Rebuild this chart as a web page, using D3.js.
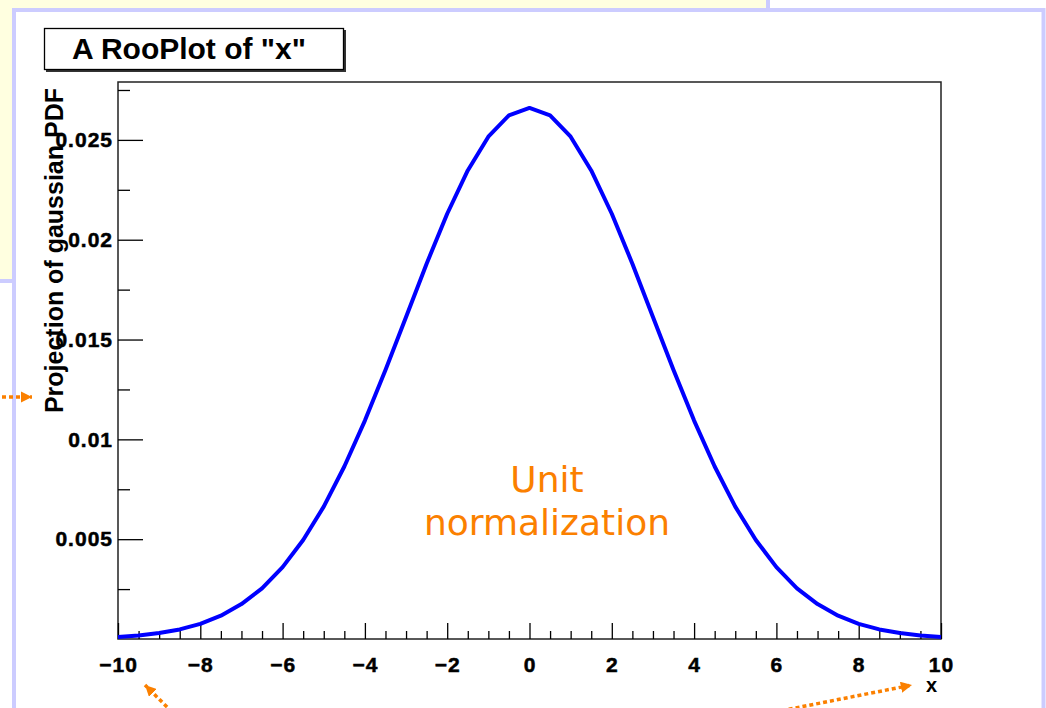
<!DOCTYPE html>
<html>
<head>
<meta charset="utf-8">
<script src="https://cdn.jsdelivr.net/npm/d3@7"></script>
<style>
  html, body { margin: 0; padding: 0; background: #fff; }
  svg { display: block; }
  .axis text { font-family: "Liberation Sans", Arial, sans-serif; font-weight: bold; font-size: 21px; letter-spacing: 1px; fill: #000; stroke: #000; stroke-width: 0.5px; }
  .axis line { stroke: #000; stroke-width: 1.3; }
  .axis path { display: none; }
</style>
</head>
<body>
<div id="chart"></div>
<script>
// x grid of the projected pdf
const xValues = [-10, -9.5, -9, -8.5, -8, -7.5, -7, -6.5, -6, -5.5, -5, -4.5, -4, -3.5, -3, -2.5, -2, -1.5, -1, -0.5,
  0, 0.5, 1, 1.5, 2, 2.5, 3, 3.5, 4, 4.5, 5, 5.5, 6, 6.5, 7, 7.5, 8, 8.5, 9, 9.5, 10];
const pdfValues = [0.0001, 0.00018, 0.0003, 0.00048, 0.00076, 0.00117, 0.00175, 0.00254, 0.0036, 0.00496, 0.00663,
  0.00864, 0.01094, 0.01347, 0.01613, 0.0188, 0.0213, 0.02347, 0.02516, 0.02623,
  0.0266, 0.02623, 0.02516, 0.02347, 0.0213, 0.0188, 0.01613, 0.01347, 0.01094, 0.00864,
  0.00663, 0.00496, 0.0036, 0.00254, 0.00175, 0.00117, 0.00076, 0.00048, 0.0003, 0.00018, 0.0001];

const xTicks = [-10, -8, -6, -4, -2, 0, 2, 4, 6, 8, 10];
const yTicks = [0.005, 0.01, 0.015, 0.02, 0.025];
const yMinorTicks = [0.0025, 0.0075, 0.0125, 0.0175, 0.0225, 0.0275];

const plotTitle = 'A RooPlot of "x"';
const xTitle = 'x';
const yTitle = 'Projection of gaussian PDF';
const noteLines = ['Unit', 'normalization'];

const width = 1046, height = 708;
const lavender = '#ccccff', orange = '#fb8000';

// plot frame in page pixels
const frame = {left: 118, right: 941, top: 82, bottom: 639};

const svg = d3.select('#chart').append('svg')
  .attr('width', width)
  .attr('height', height);

// slide background: yellow box behind, white panel with lavender edge on top
svg.append('rect')
  .attr('x', -4).attr('y', -4)
  .attr('width', 772).attr('height', 285)
  .attr('fill', '#ffffe0')
  .attr('stroke', lavender).attr('stroke-width', 4);
svg.append('rect')
  .attr('x', 14).attr('y', 10)
  .attr('width', 1029.5).attr('height', 720)
  .attr('fill', '#fff')
  .attr('stroke', lavender).attr('stroke-width', 4);

// scales
const xScale = d3.scaleLinear().domain([-10, 10]).range([frame.left, frame.right]);
const yScale = d3.scaleLinear().domain([0, 0.0279]).range([frame.bottom, frame.top]);

// title box with shadow
svg.append('rect')
  .attr('x', 46).attr('y', 30).attr('width', 300).attr('height', 42)
  .attr('fill', '#333');
svg.append('rect')
  .attr('x', 44.5).attr('y', 28.5).attr('width', 299).attr('height', 41)
  .attr('fill', '#fff').attr('stroke', '#000').attr('stroke-width', 1.3);
svg.append('text')
  .attr('x', 72).attr('y', 59)
  .attr('font-family', '"Liberation Sans", Arial, sans-serif')
  .attr('font-weight', 'bold').attr('font-size', 30)
  .text(plotTitle);

// frame
svg.append('rect')
  .attr('x', frame.left).attr('y', frame.top)
  .attr('width', frame.right - frame.left).attr('height', frame.bottom - frame.top)
  .attr('fill', '#fff').attr('stroke', '#222').attr('stroke-width', 1.5);

// x axis, ticks pointing into the frame
svg.append('g')
  .attr('class', 'axis')
  .attr('transform', `translate(0, ${frame.bottom})`)
  .call(d3.axisBottom(xScale).tickValues(xTicks).tickSizeInner(-16).tickSizeOuter(0).tickPadding(18)
    .tickFormat(d3.format('d')));
svg.append('g')
  .attr('class', 'axis')
  .attr('transform', `translate(0, ${frame.bottom})`)
  .call(d3.axisBottom(xScale).tickValues(d3.range(-9.5, 10, 0.5).filter(v => v % 2 !== 0))
    .tickSizeInner(-8).tickSizeOuter(0).tickFormat(''));

// y axis
svg.append('g')
  .attr('class', 'axis')
  .attr('transform', `translate(${frame.left}, 0)`)
  .call(d3.axisLeft(yScale).tickValues(yTicks).tickSizeInner(-25).tickSizeOuter(0).tickPadding(5)
    .tickFormat(d => d3.format('')(+d.toFixed(3))));
svg.append('g')
  .attr('class', 'axis')
  .attr('transform', `translate(${frame.left}, 0)`)
  .call(d3.axisLeft(yScale).tickValues(yMinorTicks).tickSizeInner(-12).tickSizeOuter(0).tickFormat(''));

// axis titles
svg.append('text')
  .attr('x', 937).attr('y', 692)
  .attr('text-anchor', 'end')
  .attr('font-family', '"Liberation Sans", Arial, sans-serif')
  .attr('font-weight', 'bold').attr('font-size', 20)
  .text(xTitle);
svg.append('text')
  .attr('transform', 'translate(63, 88) rotate(-90)')
  .attr('text-anchor', 'end')
  .attr('font-family', '"Liberation Sans", Arial, sans-serif')
  .attr('font-weight', 'bold').attr('font-size', 25)
  .text(yTitle);

// the curve
const line = d3.line()
  .x((d, i) => xScale(xValues[i]))
  .y(d => yScale(d));
svg.append('path')
  .datum(pdfValues)
  .attr('fill', 'none')
  .attr('stroke', '#0000ff')
  .attr('stroke-width', 4)
  .attr('stroke-linejoin', 'round')
  .attr('d', line);

// orange note
svg.append('text')
  .attr('text-anchor', 'middle')
  .attr('font-family', '"DejaVu Sans", sans-serif')
  .attr('font-size', 36)
  .attr('fill', orange)
  .selectAll('tspan')
  .data(noteLines)
  .join('tspan')
    .attr('x', 547)
    .attr('y', (d, i) => 492 + i * 43)
    .text(d => d);

// dotted orange arrows pointing at the axes
svg.append('defs').append('marker')
  .attr('id', 'head')
  .attr('viewBox', '0 0 10 10')
  .attr('refX', 10).attr('refY', 5)
  .attr('markerWidth', 3.2).attr('markerHeight', 3.2)
  .attr('markerUnits', 'strokeWidth')
  .attr('orient', 'auto')
  .append('path')
    .attr('d', 'M0,0 L10,5 L0,10 Z')
    .attr('fill', orange);

const arrows = [
  [[2, 397], [32, 397]],
  [[172, 712], [145, 685]],
  [[775, 712], [912, 685]]
];
svg.selectAll('path.arrow')
  .data(arrows)
  .join('path')
    .attr('class', 'arrow')
    .attr('d', d => d3.line()(d))
    .attr('stroke', orange)
    .attr('stroke-width', 3.5)
    .attr('stroke-dasharray', '4 3')
    .attr('marker-end', 'url(#head)');
</script>
</body>
</html>
